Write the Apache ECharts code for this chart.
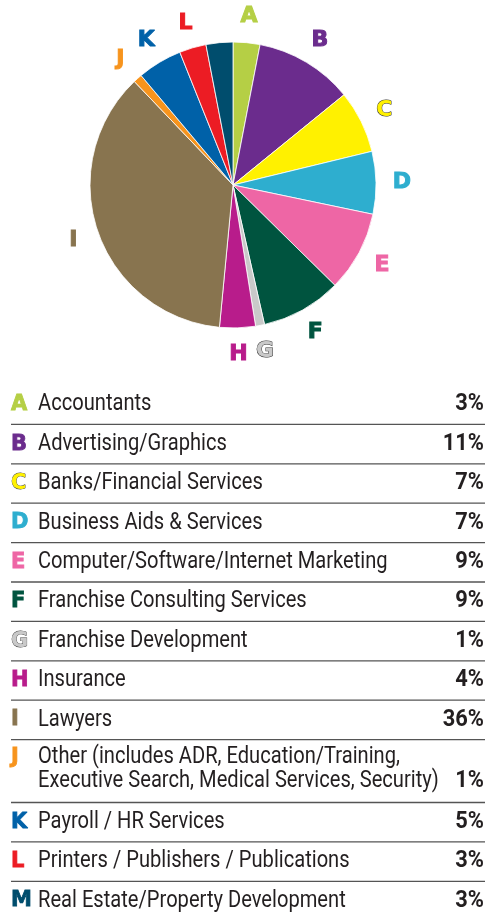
<!DOCTYPE html>
<html lang="en">
<head>
    <meta charset="UTF-8">
    <title>Pie</title>
    <script src="https://cdn.jsdelivr.net/npm/echarts@6/dist/echarts.min.js"></script>
    <style>
        html, body {margin: 0; padding: 0; background: #fff;}
    </style>
</head>
<body>
<div id="main" style="width: 485px;height: 912px"></div>
<script type="text/javascript">
    // 数据
    var letters = ['A', 'B', 'C', 'D', 'E', 'F', 'G', 'H', 'I', 'J', 'K', 'L', 'M'];
    var names = [
        'Accountants',
        'Advertising/Graphics',
        'Banks/Financial Services',
        'Business Aids & Services',
        'Computer/Software/Internet Marketing',
        'Franchise Consulting Services',
        'Franchise Development',
        'Insurance',
        'Lawyers',
        'Other (includes ADR, Education/Training,\nExecutive Search, Medical Services, Security)',
        'Payroll / HR Services',
        'Printers / Publishers / Publications',
        'Real Estate/Property Development'
    ];
    var values = [3, 11, 7, 7, 9, 9, 1, 4, 36, 1, 5, 3, 3];
    var colors = ['#b5cf45', '#6b2c8d', '#fff100', '#2eaecf', '#ee66a5', '#00543f', '#c9c9c9',
        '#b81c8b', '#88744f', '#f7941d', '#0061a8', '#ec1c24', '#004d6d'];
    var showInPie = [true, true, true, true, true, true, true, true, true, true, true, true, false];
    var outlined = ['C', 'G'];

    var myChart = echarts.init(document.getElementById('main'));

    var pieData = [], labelData = [];
    for (var i = 0; i < values.length; i++) {
        pieData.push({name: letters[i], value: values[i], itemStyle: {color: colors[i]}});
        var isOut = outlined.indexOf(letters[i]) >= 0;
        labelData.push({
            name: letters[i], value: values[i],
            label: {
                show: showInPie[i],
                color: colors[i],
                textBorderColor: isOut ? '#333' : colors[i],
                textBorderWidth: 1
            }
        });
    }

    // 表格 (窄体字用 scaleX 模拟)
    var graphics = [];
    var rowTop = 385, rowH = 39.4, lineH = 23.5;
    var font = 'Roboto, sans-serif';
    for (var i = 0; i < names.length; i++) {
        var n = names[i].split('\n').length;
        var h = rowH + (n - 1) * lineH;
        var mid = rowTop + h / 2 - (n - 1) * 2;
        var isOut = outlined.indexOf(letters[i]) >= 0;
        graphics.push({
            type: 'text', x: 11, y: mid - (n - 1) * lineH / 2,
            style: {
                text: letters[i], fill: colors[i],
                font: 'bold 21px "DejaVu Sans"',
                stroke: isOut ? '#444' : colors[i], lineWidth: 0.8,
                textAlign: 'left', textVerticalAlign: 'middle'
            }
        });
        graphics.push({
            type: 'text', x: 38, y: mid, scaleX: 0.875,
            style: {
                text: names[i], fill: '#231f20',
                font: '23px ' + font, lineHeight: lineH,
                textAlign: 'left', textVerticalAlign: 'middle'
            }
        });
        graphics.push({
            type: 'text', x: 484, y: mid + (n - 1) * lineH / 2, scaleX: 0.95,
            style: {
                text: values[i] + '%', fill: '#231f20',
                font: 'bold 23px ' + font,
                textAlign: 'right', textVerticalAlign: 'middle'
            }
        });
        if (i < names.length - 1) {
            graphics.push({
                type: 'line',
                shape: {x1: 11, y1: rowTop + h, x2: 485, y2: rowTop + h},
                style: {stroke: '#555', lineWidth: 1.3}
            });
        }
        rowTop += h;
    }

    option = {
        animation: false,
        series: [{
            type: 'pie',
            center: [233, 185],
            radius: [0, 143],
            startAngle: 90,
            clockwise: true,
            label: {show: false},
            labelLine: {show: false},
            itemStyle: {borderColor: '#fff', borderWidth: 0.8},
            data: pieData
        }, {
            type: 'pie',
            silent: true,
            center: [233, 185],
            radius: [0, 332],
            startAngle: 90,
            clockwise: true,
            itemStyle: {color: 'transparent', borderWidth: 0},
            label: {
                position: 'inside',
                formatter: '{b}',
                fontFamily: 'DejaVu Sans',
                fontWeight: 'bold',
                fontSize: 22
            },
            labelLine: {show: false},
            data: labelData
        }],
        graphic: graphics
    };
    myChart.setOption(option);
</script>
</body>
</html>
